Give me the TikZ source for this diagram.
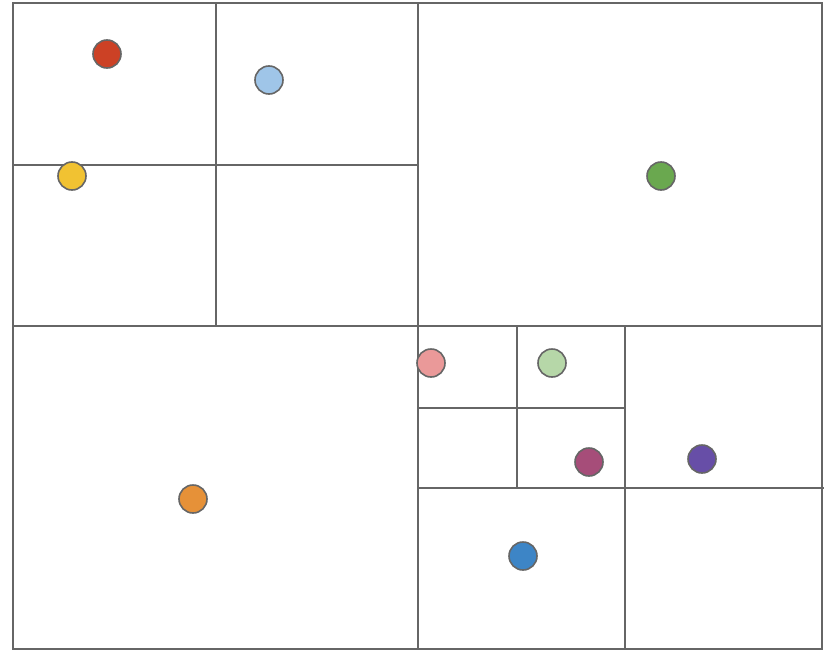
\documentclass[tikz,border=0pt]{standalone}
\begin{document}
\begin{tikzpicture}[x=1pt,y=-1pt,
  grid/.style={draw=gridgray,line width=1.6pt},
  pt/.style={circle,draw=gridgray,line width=1.6pt,minimum size=28pt,inner sep=0pt}]
\definecolor{gridgray}{HTML}{666666}
\definecolor{cred}{HTML}{CC4125}
\definecolor{clblue}{HTML}{9FC5E8}
\definecolor{cyellow}{HTML}{F1C232}
\definecolor{cgreen}{HTML}{6AA84F}
\definecolor{cpink}{HTML}{EA9999}
\definecolor{clgreen}{HTML}{B6D7A8}
\definecolor{cmagenta}{HTML}{A64D79}
\definecolor{cpurple}{HTML}{674EA7}
\definecolor{corange}{HTML}{E69138}
\definecolor{cblue}{HTML}{3D85C6}
\useasboundingbox (0,0) rectangle (831,651);
\fill[white] (0,0) rectangle (831,651);
\draw[grid] (13,3) rectangle (822,649);
\draw[grid] (418,3) -- (418,649);
\draw[grid] (13,326) -- (822,326);
\draw[grid] (216,3) -- (216,326);
\draw[grid] (13,165) -- (418,165);
\draw[grid] (625,326) -- (625,649);
\draw[grid] (418,488) -- (824,488);
\draw[grid] (418,408) -- (625,408);
\draw[grid] (517,326) -- (517,488);
\node[pt,fill=cred] (p1) at (107,54) {};
\node[pt,fill=clblue] (p2) at (269,80) {};
\node[pt,fill=cyellow] (p3) at (72,176) {};
\node[pt,fill=cgreen] (p4) at (661,176) {};
\node[pt,fill=cpink] (p5) at (431,363) {};
\node[pt,fill=clgreen] (p6) at (552,363) {};
\node[pt,fill=cmagenta] (p7) at (589,462) {};
\node[pt,fill=cpurple] (p8) at (702,459) {};
\node[pt,fill=corange] (p9) at (193,499) {};
\node[pt,fill=cblue] (p10) at (523,556) {};
\end{tikzpicture}
\end{document}
